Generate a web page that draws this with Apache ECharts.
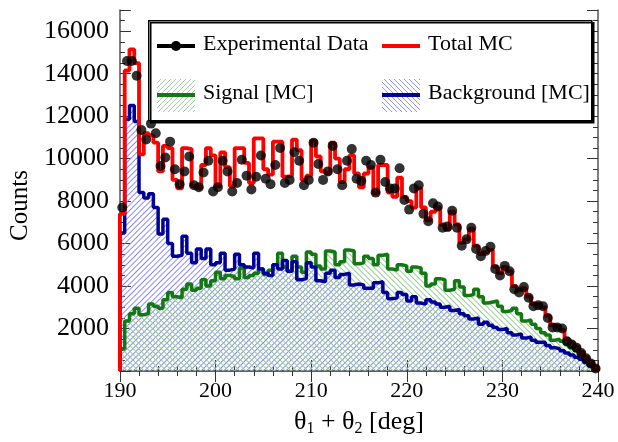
<!DOCTYPE html>
<html>
<head>
<meta charset="utf-8">
<script src="https://cdn.jsdelivr.net/npm/echarts@6/dist/echarts.min.js"></script>
<style>
  html, body { margin: 0; background: #fff; }
  #chart { width: 618px; height: 442px; }
</style>
</head>
<body>
<div id="chart"></div>
<script>
// 100 bins of 0.5 deg from 190 to 240
const xMin = 190, xMax = 240, binWidth = 0.5;

const dataCounts = [
  7700, 14600, 14600, 13900, 11350, 10900, 11650, 11200, 9650, 10050,
  10800, 9500, 8800, 9400, 10100, 8750, 8650, 9350, 9900, 8450,
  8650, 9900, 9400, 8450, 8850, 9950, 9200, 8550, 9150, 10150,
  9050, 8800, 9700, 10500, 8850, 9000, 10300, 9900, 8750, 9000,
  10750, 9750, 9000, 9400, 10600, 9500, 8750, 9900, 10450, 9050,
  8950, 9900, 9700, 8400, 9950, 8900, 8600, 8600, 9550, 8050,
  7600, 8600, 8750, 7400, 7050, 7900, 7750, 6750, 6800, 7550,
  6750, 5900, 6200, 6750, 5750, 5400, 5650, 5850, 4800, 4500,
  4950, 4700, 3850, 3700, 3950, 3450, 3050, 3100, 3050, 2500,
  2050, 2050, 2000, 1400, 1250, 1100, 850, 600, 350, 120
];

const totalMC = [
  7400, 14150, 15150, 14500, 10200, 11200, 11100, 10750, 9400, 10600,
  10500, 9000, 8600, 10500, 10450, 8700, 8600, 9700, 10500, 10150,
  8700, 10300, 9600, 8700, 10500, 10500, 9800, 8850, 10950, 10950,
  9500, 9250, 10800, 10800, 9150, 9200, 10900, 10400, 9000, 9200,
  10850, 10100, 9400, 9300, 10750, 10000, 8900, 9500, 10150, 9300,
  8650, 9300, 9600, 8350, 9700, 9700, 8400, 8200, 9100, 8200,
  8000, 7700, 8600, 7700, 7100, 7500, 7700, 6900, 6650, 7500,
  6900, 6050, 6200, 6700, 5900, 5500, 5600, 5700, 4900, 4600,
  4900, 4700, 4000, 3800, 3900, 3500, 3150, 3150, 3000, 2600,
  2150, 2100, 1950, 1500, 1350, 1150, 900, 650, 400, 150
];

const signalMC = [
  1050, 2350, 2700, 2950, 2650, 2700, 3150, 3050, 2950, 3350,
  3700, 3500, 3450, 3850, 4100, 3800, 3900, 4300, 4000, 4250,
  4650, 4350, 4500, 4450, 4350, 4850, 4400, 4500, 4600, 4800,
  4550, 4750, 5000, 5550, 4900, 4700, 5400, 4900, 4650, 5600,
  5500, 4950, 4800, 5650, 5600, 5000, 5150, 5700, 5650, 5050,
  5100, 5400, 5300, 5000, 5450, 5500, 4800, 4750, 5000, 4950,
  4700, 4900, 4850, 4600, 4000, 4100, 4350, 4300, 3800, 3850,
  4250, 3950, 3550, 3600, 3850, 3500, 3200, 3250, 3300, 3050,
  2800, 2850, 2950, 2700, 2350, 2400, 2200, 2000, 1800, 1700,
  1450, 1500, 1400, 1250, 1100, 950, 750, 600, 430, 200
];

const backgroundMC = [
  6500, 11850, 12500, 11750, 8400, 8150, 8350, 7700, 6450, 7150,
  6000, 5400, 5450, 6350, 5550, 5100, 5750, 5300, 5750, 5000,
  5100, 5550, 4750, 4800, 5500, 5000, 4900, 4850, 5550, 4800,
  4600, 4500, 5000, 4800, 5200, 4700, 5150, 4300, 4350, 5100,
  4900, 4250, 4200, 4600, 4750, 4400, 4550, 4600, 4050, 4100,
  4050, 3900, 3900, 4150, 4200, 3700, 3400, 3450, 3700, 3600,
  3300, 3500, 3200, 3150, 3350, 3250, 3150, 3000, 3050, 2850,
  2900, 2700, 2600, 2450, 2500, 2200, 2300, 2150, 2050, 1950,
  2000, 1800, 1700, 1750, 1550, 1600, 1450, 1350, 1350, 1200,
  1100, 1050, 950, 850, 750, 650, 550, 400, 250, 100
];

const serif = 'Liberation Serif';
const blue = '#000099', green = '#137813', red = '#ff0000';
const blueHatch = '#8a8af6', greenHatch = '#98cc98';

// histogram outline as step points, closed to zero at both ends
function stepPoints(vals) {
  let pts = [[xMin, 0]];
  for (let i = 0; i < vals.length; i++) {
    pts.push([xMin + i * binWidth, vals[i]]);
  }
  pts.push([xMax, vals[vals.length - 1]]);
  pts.push([xMax, 0]);
  return pts;
}

// diagonal line decal
function hatchDecal(color, angle) {
  return {
    symbol: 'rect',
    symbolSize: 1,
    color: color,
    backgroundColor: 'rgba(255,255,255,0)',
    dashArrayX: [1, 0],
    dashArrayY: [1, 3],
    rotation: angle
  };
}

// canvas tile for the legend boxes, dir 1 = "/", -1 = "\"
function hatch(color, dir) {
  let c = document.createElement('canvas');
  c.width = 5; c.height = 5;
  let g = c.getContext('2d');
  g.strokeStyle = color;
  g.lineWidth = 0.9;
  g.beginPath();
  if (dir > 0) {
    g.moveTo(-1, 6); g.lineTo(6, -1);
    g.moveTo(-1, 1); g.lineTo(1, -1);
    g.moveTo(4, 6); g.lineTo(6, 4);
  } else {
    g.moveTo(-1, -1); g.lineTo(6, 6);
    g.moveTo(4, -1); g.lineTo(6, 1);
    g.moveTo(-1, 4); g.lineTo(1, 6);
  }
  g.stroke();
  return { image: c, repeat: 'repeat' };
}

const points = dataCounts.map((v, i) => [xMin + (i + 0.5) * binWidth, v]);

const myChart = echarts.init(document.getElementById('chart'));

const axisCommon = {
  axisLine: { show: true, lineStyle: { color: '#555', width: 1.5 } },
  axisTick: { show: true, inside: true, length: 11, lineStyle: { color: '#333' } },
  splitLine: { show: false }
};
const xMinor = { minorTick: { show: true, splitNumber: 5, length: 5, lineStyle: { color: '#333' } } };
const yMinor = { minorTick: { show: true, splitNumber: 4, length: 5, lineStyle: { color: '#333' } } };

let option = {
  animation: false,
  grid: { left: 113, right: 20, top: 10, bottom: 61 },
  xAxis: [
    Object.assign({
      type: 'value', min: xMin, max: xMax, interval: 10,
      axisLabel: { fontFamily: serif, fontSize: 22, color: '#000', margin: 9 },
      name: 'θ{s|1} + θ{s|2} [deg]',
      nameLocation: 'middle',
      nameGap: 36,
      nameTextStyle: {
        fontFamily: serif, fontSize: 26, color: '#000',
        rich: { s: { fontFamily: serif, fontSize: 16, verticalAlign: 'bottom', padding: [14, 0, 0, 0] } }
      }
    }, axisCommon, xMinor),
    Object.assign({
      type: 'value', min: xMin, max: xMax, interval: 10, position: 'top',
      axisLabel: { show: false }
    }, axisCommon, xMinor)
  ],
  yAxis: [
    Object.assign({
      type: 'value', min: 0, max: 17000, interval: 2000,
      axisLabel: {
        fontFamily: serif, fontSize: 26, color: '#000', margin: 11,
        formatter: v => (v > 0 && v % 2000 === 0) ? String(v) : ''
      },
      name: 'Counts',
      nameLocation: 'middle',
      nameGap: 82,
      nameTextStyle: { fontFamily: serif, fontSize: 25, color: '#000', padding: [0, 30, 0, 0] }
    }, axisCommon, yMinor),
    Object.assign({
      type: 'value', min: 0, max: 17000, interval: 2000, position: 'right',
      axisLabel: { show: false }
    }, axisCommon, yMinor)
  ],
  series: [
    {
      name: 'Background fill', type: 'line', step: 'end', symbol: 'none', z: 1,
      data: stepPoints(backgroundMC),
      lineStyle: { width: 0 },
      itemStyle: { color: blueHatch, decal: hatchDecal(blueHatch, -Math.PI / 4) },
      areaStyle: { color: 'rgba(255,255,255,0.01)', opacity: 1 }
    },
    {
      name: 'Signal fill', type: 'line', step: 'end', symbol: 'none', z: 2,
      data: stepPoints(signalMC),
      lineStyle: { width: 0 },
      itemStyle: { color: greenHatch, decal: hatchDecal(greenHatch, Math.PI / 4) },
      areaStyle: { color: 'rgba(255,255,255,0.01)', opacity: 1 }
    },
    {
      name: 'Signal [MC]', type: 'line', step: 'end', symbol: 'none', z: 3,
      data: stepPoints(signalMC),
      lineStyle: { color: green, width: 3.5 }
    },
    {
      name: 'Background [MC]', type: 'line', step: 'end', symbol: 'none', z: 4,
      data: stepPoints(backgroundMC),
      lineStyle: { color: blue, width: 3.5 }
    },
    {
      name: 'Total MC', type: 'line', step: 'end', symbol: 'none', z: 5,
      data: stepPoints(totalMC),
      lineStyle: { color: red, width: 3.8 }
    },
    {
      name: 'Experimental Data', type: 'scatter', z: 6,
      symbol: 'circle', symbolSize: 10,
      itemStyle: { color: '#000' },
      data: points
    }
  ],
  graphic: [
    {
      type: 'rect', left: 148, top: 20, z: 100,
      shape: { width: 443, height: 100 },
      style: { fill: '#fff', stroke: '#000', lineWidth: 1.5, shadowColor: '#000', shadowOffsetX: 2, shadowOffsetY: 2, shadowBlur: 0 }
    },
    // row 1
    { type: 'line', z: 101, shape: { x1: 157, y1: 46, x2: 195, y2: 46 }, style: { stroke: '#000', lineWidth: 4 } },
    { type: 'circle', z: 102, shape: { cx: 176, cy: 46, r: 5 }, style: { fill: '#000' } },
    { type: 'text', z: 101, left: 203, top: 33, style: { text: 'Experimental Data', font: '22px "Liberation Serif"', fill: '#000' } },
    { type: 'line', z: 101, shape: { x1: 382, y1: 46, x2: 420, y2: 46 }, style: { stroke: red, lineWidth: 4 } },
    { type: 'text', z: 101, left: 428, top: 33, style: { text: 'Total MC', font: '22px "Liberation Serif"', fill: '#000' } },
    // row 2
    { type: 'rect', z: 101, shape: { x: 157, y: 79, width: 38, height: 33 }, style: { fill: hatch(greenHatch, 1), stroke: null } },
    { type: 'line', z: 102, shape: { x1: 157, y1: 95, x2: 195, y2: 95 }, style: { stroke: green, lineWidth: 4 } },
    { type: 'text', z: 101, left: 203, top: 82, style: { text: 'Signal [MC]', font: '22px "Liberation Serif"', fill: '#000' } },
    { type: 'rect', z: 101, shape: { x: 382, y: 79, width: 38, height: 33 }, style: { fill: hatch(blueHatch, -1), stroke: null } },
    { type: 'line', z: 102, shape: { x1: 382, y1: 95, x2: 420, y2: 95 }, style: { stroke: blue, lineWidth: 4 } },
    { type: 'text', z: 101, left: 428, top: 82, style: { text: 'Background [MC]', font: '22px "Liberation Serif"', fill: '#000' } }
  ]
};

myChart.setOption(option);
</script>
</body>
</html>
